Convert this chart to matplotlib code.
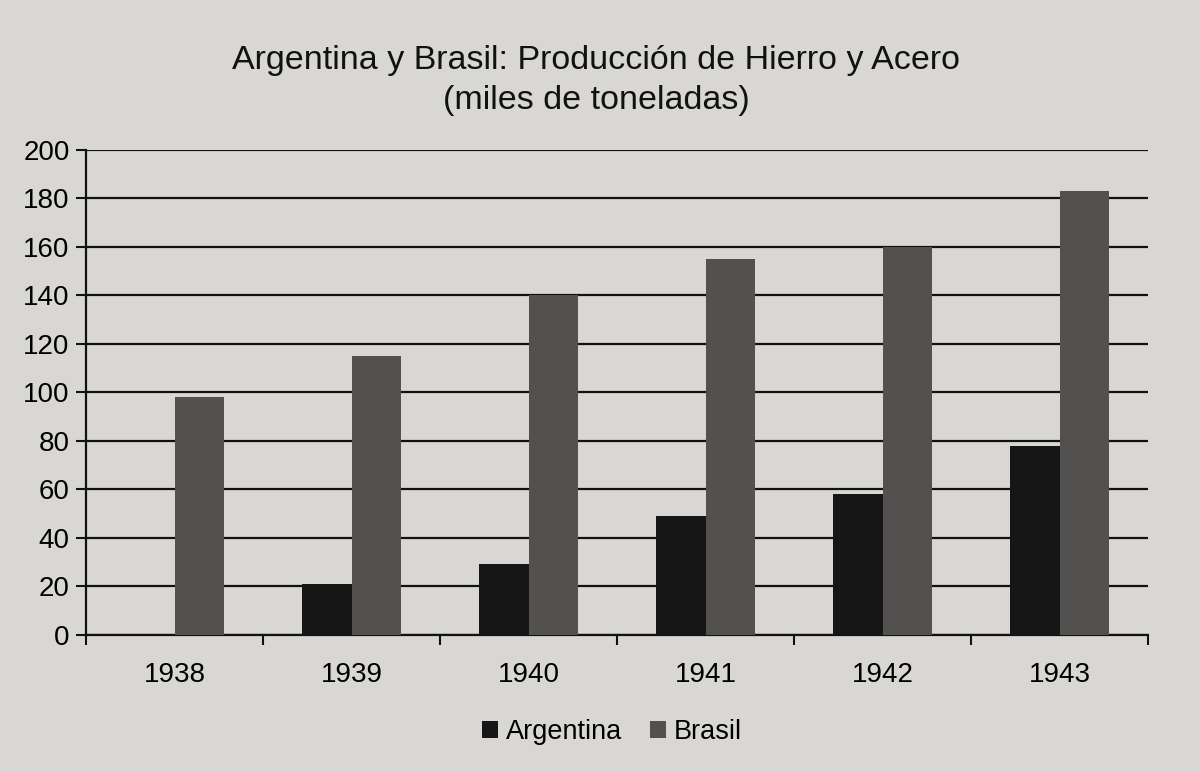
import numpy as np
import matplotlib
matplotlib.use('Agg')
import matplotlib.pyplot as plt

years = ['1938', '1939', '1940', '1941', '1942', '1943']
argentina = [0, 21, 29, 49, 58, 78]
brasil = [98, 115, 140, 155, 160, 183]

plt.rcParams['font.family'] = ['Liberation Sans', 'DejaVu Sans']

def main():
    bg = '#d9d7d3'
    fig = plt.figure(figsize=(12, 7.72), dpi=100, facecolor=bg)
    ax = fig.add_axes([0.072, 0.178, 0.885, 0.628])
    ax.set_facecolor(bg)

    x = np.arange(len(years))
    w = 0.28
    ax.bar(x - 0.14, argentina, w, color='#161616', label='Argentina', zorder=3)
    ax.bar(x + 0.14, brasil, w, color='#53514f', label='Brasil', zorder=3)

    # grid lines across the plot
    ax.set_ylim(0, 200)
    ax.set_yticks(np.arange(0, 201, 20))
    ax.yaxis.grid(True, color='#111111', linewidth=1.6, zorder=1)
    ax.set_axisbelow(True)
    ax.set_xlim(-0.5, len(years) - 0.5)

    ax.set_xticks(x)
    ax.set_xticklabels(years, fontsize=20)
    ax.tick_params(axis='x', length=0, pad=20)
    ax.set_xticks(np.arange(-0.5, len(years), 1), minor=True)
    ax.tick_params(axis='x', which='minor', length=7, width=1.5, color='#111111')
    ax.tick_params(axis='y', labelsize=20, length=7, width=1.5, color='#111111', pad=5)

    for s in ['top', 'right']:
        ax.spines[s].set_visible(False)
    for s in ['left', 'bottom']:
        ax.spines[s].set_linewidth(1.6)
        ax.spines[s].set_color('#111111')

    fig.text(0.497, 0.922, 'Argentina y Brasil: Producción de Hierro y Acero',
             ha='center', va='center', fontsize=24.5, color='#111111')
    fig.text(0.497, 0.870, '(miles de toneladas)',
             ha='center', va='center', fontsize=24.5, color='#111111')

    fig.legend(loc='center', bbox_to_anchor=(0.51, 0.052), ncol=2, frameon=False,
               fontsize=19.5, handlelength=0.6, handleheight=0.6, columnspacing=1.0,
               handletextpad=0.3)

    fig.savefig('out.png', dpi=100, facecolor=bg)


if __name__ == '__main__':
    main()
